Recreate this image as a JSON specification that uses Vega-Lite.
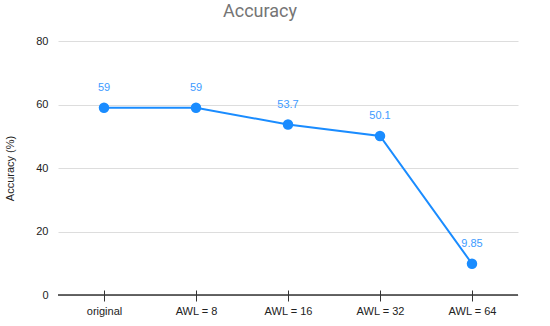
{
  "$schema": "https://vega.github.io/schema/vega-lite/v6.json",
  "autosize": "none",
  "width": 460,
  "height": 254,
  "padding": {"left": 58, "top": 41, "right": 32, "bottom": 31},
  "background": "white",
  "config": {"view": {"stroke": null}, "font": "Liberation Sans"},
  "title": {"text": "Accuracy", "font": "Roboto", "fontSize": 18, "fontWeight": "normal", "color": "#757575", "anchor": "middle", "dx": -28, "offset": 14},
  "data": {"values": [
    {"cond": "original", "acc": 59, "lab": "59"},
    {"cond": "AWL = 8", "acc": 59, "lab": "59"},
    {"cond": "AWL = 16", "acc": 53.7, "lab": "53.7"},
    {"cond": "AWL = 32", "acc": 50.1, "lab": "50.1"},
    {"cond": "AWL = 64", "acc": 9.85, "lab": "9.85"}
  ]},
  "encoding": {
    "x": {"field": "cond", "type": "nominal", "sort": null, "scale": {"type": "point", "padding": 0.5},
      "axis": {"title": null, "labelAngle": 0, "labelFontSize": 11, "labelColor": "#222", "labelPadding": 4, "offset": -5,
        "domain": false, "ticks": true, "tickColor": "#333", "tickSize": 11, "grid": false}},
    "y": {"field": "acc", "type": "quantitative", "scale": {"domain": [0, 80], "nice": false},
      "axis": {"title": "Accuracy (%)", "titleFontSize": 11, "titleFontWeight": "normal", "titleColor": "#222", "titlePadding": 20,
        "values": [0, 20, 40, 60, 80], "labelFontSize": 11, "labelColor": "#222", "labelPadding": 10,
        "domain": false, "ticks": false, "gridColor": "#dddddd", "gridWidth": 1.2}}
  },
  "layer": [
    {"mark": {"type": "rule", "color": "#333", "strokeWidth": 1.3}, "data": {"values": [{"z": 0}]}, "encoding": {"y": {"field": "z", "type": "quantitative"}, "x": null}},
    {"mark": {"type": "line", "color": "#1a8cff", "strokeWidth": 2}},
    {"mark": {"type": "circle", "color": "#1a8cff", "opacity": 1, "size": 110}},
    {"mark": {"type": "text", "color": "#3d9bff", "fontSize": 11, "dy": -20}, "encoding": {"text": {"field": "lab"}}}
  ]
}
